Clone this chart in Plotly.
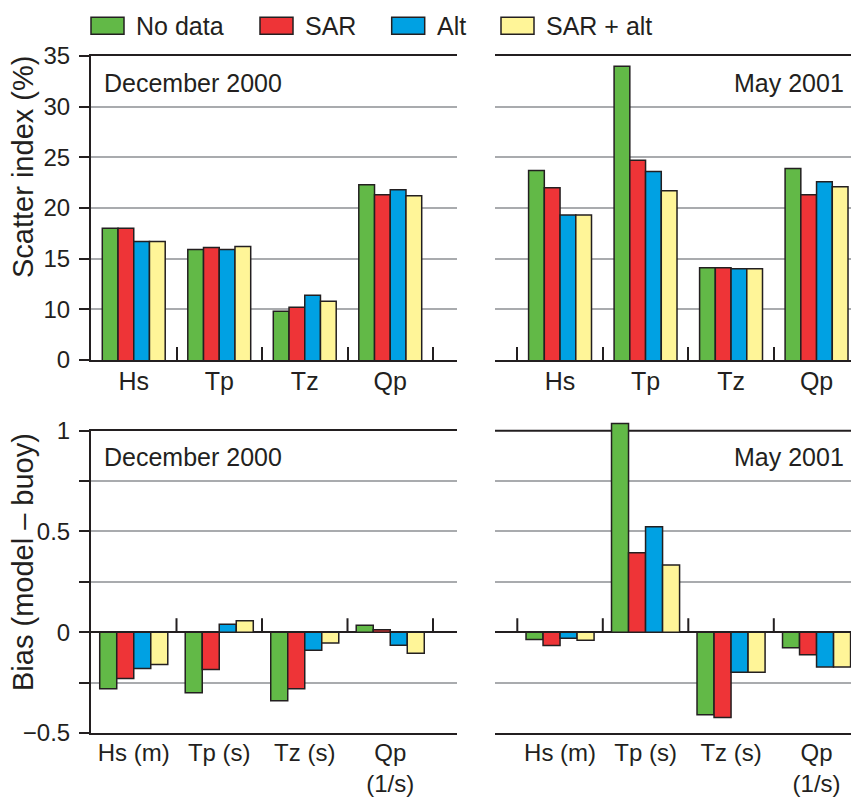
import plotly.graph_objects as go

# ---- data -------------------------------------------------------------
series_names = ["No data", "SAR", "Alt", "SAR + alt"]
series_colors = ["#62B947", "#EE3437", "#00A1E3", "#FFF598"]

params_top = ["Hs", "Tp", "Tz", "Qp"]
params_bottom = ["Hs (m)", "Tp (s)", "Tz (s)", "Qp<br>(1/s)"]

# Scatter index (%), one list per run: Hs, Tp, Tz, Qp
scatter_dec2000 = {
    "No data":   [18.0, 15.9, 9.8, 22.3],
    "SAR":       [18.0, 16.1, 10.2, 21.3],
    "Alt":       [16.7, 15.9, 11.4, 21.8],
    "SAR + alt": [16.7, 16.2, 10.8, 21.2],
}
scatter_may2001 = {
    "No data":   [23.7, 34.0, 14.1, 23.9],
    "SAR":       [22.0, 24.7, 14.1, 21.3],
    "Alt":       [19.3, 23.6, 14.0, 22.6],
    "SAR + alt": [19.3, 21.7, 14.0, 22.1],
}

# Bias (model - buoy)
bias_dec2000 = {
    "No data":   [-0.28, -0.30, -0.34, 0.035],
    "SAR":       [-0.23, -0.185, -0.28, 0.012],
    "Alt":       [-0.18, 0.04, -0.09, -0.064],
    "SAR + alt": [-0.16, 0.057, -0.053, -0.104],
}
bias_may2001 = {
    "No data":   [-0.036, 1.036, -0.41, -0.077],
    "SAR":       [-0.066, 0.394, -0.423, -0.112],
    "Alt":       [-0.03, 0.523, -0.198, -0.172],
    "SAR + alt": [-0.04, 0.333, -0.198, -0.172],
}

scatter_ticks = [5, 10, 15, 20, 25, 30, 35]
scatter_ticktext = ["0", "10", "15", "20", "25", "30", "35"]
bias_ticks = [-0.5, -0.25, 0, 0.25, 0.5, 0.75, 1]
bias_ticktext = ["\u22120.5", "", "0", "", "0.5", "", "1"]

# ---- styling ----------------------------------------------------------
W, H = 851, 799
INK = "#231F20"
GRID = "#A9ABAE"
FONT = "Liberation Sans"


def fx(px):
    return px / W


def fy(py):
    return 1 - py / H


fig = go.Figure()

# panel layout: (xaxis id, yaxis id, data, categories, bar width, label, title side)
panels = [
    ("x", "y", scatter_dec2000, params_top, 0.184, "December 2000", "left"),
    ("x2", "y2", scatter_may2001, params_top, 0.184, "May 2001", "right"),
    ("x3", "y3", bias_dec2000, params_bottom, 0.199, "December 2000", "left"),
    ("x4", "y4", bias_may2001, params_bottom, 0.199, "May 2001", "right"),
]

for xa, ya, data, cats, w, label, side in panels:
    n = len(series_names)
    for i, (name, col) in enumerate(zip(series_names, series_colors)):
        fig.add_trace(go.Bar(
            x=cats, y=data[name], name=name, xaxis=xa, yaxis=ya,
            width=w, offset=-n / 2 * w + i * w,
            marker=dict(color=col, line=dict(color=INK, width=1.5)),
            showlegend=False,
        ))

bias_px_per_unit = 302.3 / 1.5
bias_top = 1.05  # head-room above the frame for the tallest May bar

x_left = [fx(91), fx(456.7)]
x_right = [fx(495), 1.0]
y_top = [fy(360), fy(56)]
y_bot = [fy(733), fy(430.7)]
y_bot_right = [fy(733), fy(430.7 - (bias_top - 1) * bias_px_per_unit)]

band = 85.5  # pixels per category
rng_left = [-0.5, -0.5 + (456.7 - 91) / band]
rng_right = [-0.5 - (517.3 - 495) / band, -0.5 + (851 - 517.3) / band]

common_x = dict(type="category", showline=True, linecolor=INK, linewidth=2,
                mirror=True, showgrid=False, zeroline=False, automargin=False)
common_y = dict(showgrid=True, gridcolor=GRID, gridwidth=2, zeroline=False,
                tickmode="array", automargin=False)
top_xfont = dict(family=FONT, size=25, color=INK)
bot_xfont = dict(family=FONT, size=24, color=INK)

fig.update_layout(
    template="none",
    xaxis=dict(common_x, domain=x_left, range=rng_left, anchor="y",
               ticks="inside", tickson="boundaries", ticklen=13, tickwidth=2,
               tickcolor=INK, tickfont=top_xfont, ticklabelstandoff=-2),
    xaxis2=dict(common_x, domain=x_right, range=rng_right, anchor="y2",
                ticks="inside", tickson="boundaries", ticklen=13, tickwidth=2,
                tickcolor=INK, tickfont=top_xfont, ticklabelstandoff=-2),
    xaxis3=dict(common_x, domain=x_left, range=rng_left, anchor="y3",
                ticks="", tickfont=bot_xfont, ticklabelstandoff=-3),
    xaxis4=dict(common_x, domain=x_right, range=rng_right, anchor="y4",
                ticks="", tickfont=bot_xfont, ticklabelstandoff=-3,
                mirror=False),
    yaxis=dict(common_y, domain=y_top, range=[5, 35], anchor="x",
               tickvals=scatter_ticks, ticktext=scatter_ticktext,
               showline=True, linecolor=INK, linewidth=2, ticks="outside",
               ticklen=10, tickwidth=2, tickcolor=INK,
               tickfont=dict(family=FONT, size=24, color=INK),
               ticklabelstandoff=4),
    yaxis2=dict(common_y, domain=y_top, range=[5, 35], anchor="x2",
                tickvals=scatter_ticks, showticklabels=False, ticks=""),
    yaxis3=dict(common_y, domain=y_bot, range=[-0.5, 1], anchor="x3",
                tickvals=bias_ticks, ticktext=bias_ticktext,
                zeroline=True, zerolinecolor=INK, zerolinewidth=2,
                showline=True, linecolor=INK, linewidth=2, ticks="outside",
                ticklen=10, tickwidth=2, tickcolor=INK,
                tickfont=dict(family=FONT, size=24, color=INK),
                ticklabelstandoff=4),
    yaxis4=dict(common_y, domain=y_bot_right, range=[-0.5, bias_top],
                anchor="x4", tickvals=bias_ticks[:-1], showticklabels=False,
                ticks="", zeroline=True, zerolinecolor=INK, zerolinewidth=2),
    barmode="overlay",
    width=W, height=H, autosize=False,
    margin=dict(l=0, r=0, t=0, b=0, pad=0),
    paper_bgcolor="white", plot_bgcolor="white",
    font=dict(family=FONT, color=INK),
    showlegend=False,
)

shapes = []
annotations = []

# frame line at bias = 1 for the May panel (drawn under the bars)
shapes.append(dict(type="line", xref="x4 domain", yref="y4", x0=0, x1=1,
                   y0=1, y1=1, layer="below",
                   line=dict(color=INK, width=2)))

# upward ticks on the zero line of the bias panels, at category boundaries
tick_len = 14 / bias_px_per_unit
for xa, ya, rng in (("x3", "y3", rng_left), ("x4", "y4", rng_right)):
    for k in range(len(params_bottom) + 1):
        b = k - 0.5
        if rng[0] < b < rng[1]:
            shapes.append(dict(type="line", xref=xa, yref=ya, x0=b, x1=b,
                               y0=0, y1=tick_len,
                               line=dict(color=INK, width=2)))

# period labels inside each panel
for (xa, ya, data, cats, w, label, side), ytop in zip(
        panels, (83, 83, 457, 457)):
    if side == "left":
        annotations.append(dict(text=label, xref="paper", yref="paper",
                                x=fx(102), y=fy(ytop), xanchor="left",
                                yanchor="middle", showarrow=False,
                                font=dict(family=FONT, size=25, color=INK)))
    else:
        annotations.append(dict(text=label, xref="paper", yref="paper",
                                x=fx(846), y=fy(ytop), xanchor="right",
                                yanchor="middle", showarrow=False,
                                font=dict(family=FONT, size=25, color=INK)))

# axis titles
annotations.append(dict(text="Scatter index (%)", xref="paper", yref="paper",
                        x=fx(23), y=fy(167), textangle=-90, showarrow=False,
                        xanchor="center", yanchor="middle",
                        font=dict(family=FONT, size=29, color=INK)))
annotations.append(dict(text="Bias (model \u2013 buoy)", xref="paper",
                        yref="paper", x=fx(23), y=fy(562), textangle=-90,
                        showarrow=False, xanchor="center", yanchor="middle",
                        font=dict(family=FONT, size=29, color=INK)))

# legend: swatch + label per series
swatch_x = [91, 260, 391.7, 501]
for name, col, sx in zip(series_names, series_colors, swatch_x):
    shapes.append(dict(type="rect", xref="paper", yref="paper",
                       x0=fx(sx), x1=fx(sx + 33), y0=fy(34.3), y1=fy(17.3),
                       fillcolor=col, line=dict(color=INK, width=1.5)))
    annotations.append(dict(text=name, xref="paper", yref="paper",
                            x=fx(sx + 43), y=fy(26), xanchor="left",
                            yanchor="middle", showarrow=False,
                            font=dict(family=FONT, size=25, color=INK)))

fig.update_layout(shapes=shapes, annotations=annotations)

fig.write_html("out.html")
